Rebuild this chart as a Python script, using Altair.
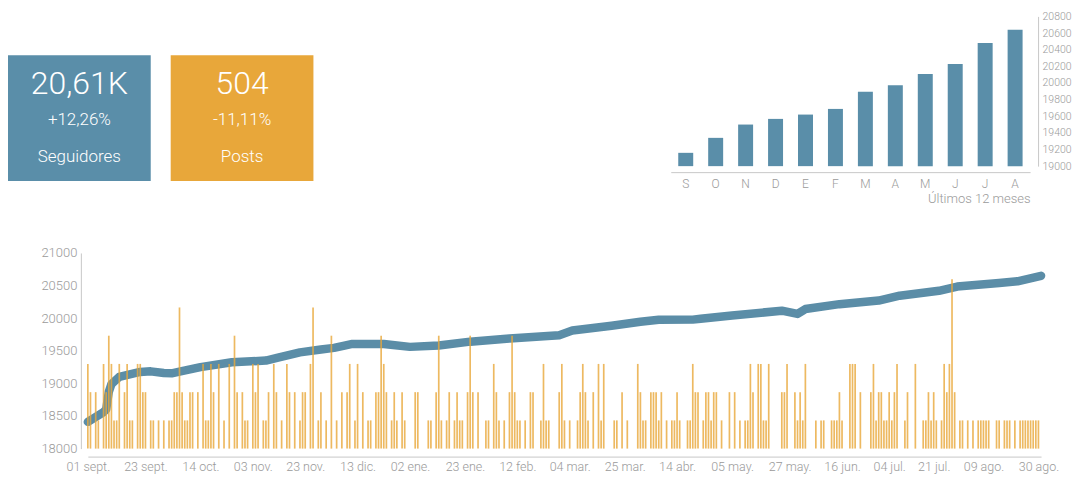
import altair as alt
import pandas as pd

BLUE = "#5a8ea9"
ORANGE = "#e8a73a"
GRAY = "#9a9a9a"

# KPI cards
CARD_NAMES = ["Seguidores", "Posts"]
CARD_VALUES = ["20,61K", "504"]
CARD_CHANGES = ["+12,26%", "-11,11%"]
CARD_COLORS = [BLUE, ORANGE]

# Last 12 months followers
MONTHS = ["sep", "oct", "nov", "dic", "ene", "feb", "mar", "abr", "may", "jun", "jul", "ago"]
MONTH_FOLLOWERS = [19160, 19340, 19500, 19568, 19620, 19688, 19893, 19972, 20109, 20229, 20480, 20640]

# Daily followers (read at points along the line)
FOLLOWER_DATES = [
    "2018-09-01", "2018-09-07", "2018-09-08", "2018-09-09", "2018-09-10", "2018-09-13",
    "2018-09-21", "2018-09-25", "2018-09-30", "2018-10-03", "2018-10-06", "2018-10-14",
    "2018-10-26", "2018-11-08", "2018-11-13", "2018-11-21", "2018-11-29", "2018-12-04",
    "2018-12-08", "2018-12-11", "2018-12-23", "2019-01-02", "2019-01-13", "2019-01-25",
    "2019-02-09", "2019-02-28", "2019-03-05", "2019-03-20", "2019-03-31", "2019-04-07",
    "2019-04-20", "2019-04-23", "2019-05-05", "2019-05-24", "2019-05-30", "2019-06-02",
    "2019-06-15", "2019-06-30", "2019-07-08", "2019-07-23", "2019-07-30", "2019-08-15",
    "2019-08-22", "2019-08-31",
]
FOLLOWER_VALUES = [
    18410, 18560, 18600, 18870, 18990, 19100,
    19175, 19185, 19160, 19155, 19180, 19250,
    19325, 19350, 19400, 19475, 19520, 19545,
    19580, 19605, 19605, 19560, 19580, 19640,
    19690, 19740, 19810, 19885, 19945, 19975,
    19978, 19990, 20040, 20115, 20065, 20140,
    20215, 20270, 20345, 20420, 20485, 20540,
    20565, 20650,
]

# Posts per day (day offset from 01 sept., number of posts)
START = "2018-09-01"
POST_DAY = [
    0, 1, 3, 4, 6, 7, 8, 9, 10, 11, 12, 14, 15, 16, 17, 19, 20, 21, 22, 24, 25, 27, 29, 31, 32, 33, 34, 35,
    36, 37, 38, 39, 40, 42, 44, 45, 46, 47, 48, 50,
    52, 54, 56, 57, 59, 60, 61, 63, 64, 65, 67, 68, 69, 71, 72, 74, 76, 77, 79, 81, 82, 83, 85, 86, 88, 89,
    91, 93, 95, 97, 99, 100, 102, 103,
    105, 107, 108, 110, 111, 112, 113, 114, 116, 117, 118, 120, 121, 125, 126, 130, 131, 133, 134, 135, 137,
    138, 140, 141, 142, 143, 145, 146, 147, 149, 152, 153, 155, 156, 157,
    159, 161, 162, 163, 164, 165, 167, 169, 170, 173, 174, 175, 176, 180, 181, 182, 184, 187, 188, 189, 190,
    191, 193, 195, 196, 197, 201, 202, 204, 206, 210, 211,
    212, 213, 215, 216, 217, 218, 219, 221, 223, 224, 225, 226, 229, 230, 231, 232, 233, 235, 236, 237, 238,
    239, 240, 242, 245, 247, 249, 251, 252, 253, 254, 256, 257, 258, 259, 260,
    265, 266, 267, 270, 271, 272, 273, 274, 278, 280, 281, 284, 285, 286, 287, 288, 291, 292, 293, 295, 299,
    300, 301, 302, 303, 304, 305, 306, 307, 308, 309, 312, 313, 316,
    319, 320, 321, 322, 323, 324, 326, 327, 328, 329, 330, 331, 333, 334, 336, 338, 340, 341, 342, 343, 344,
    347, 348, 350, 351, 352, 354, 356, 357, 358, 359, 360, 361, 362, 363,
]
POST_COUNT = [
    3, 2, 2, 1, 3, 2, 4, 3, 1, 1, 3, 2, 3, 1, 1, 3, 3, 2, 2, 1, 1, 1, 1, 1, 1, 2, 2, 5,
    2, 1, 1, 2, 2, 2, 3, 1, 1, 3, 2, 3,
    1, 3, 4, 2, 2, 1, 1, 3, 2, 3, 1, 1, 2, 3, 2, 1, 3, 2, 2, 1, 2, 2, 3, 5, 1, 2,
    1, 4, 1, 2, 2, 3, 1, 3,
    2, 1, 1, 2, 2, 4, 3, 2, 1, 2, 1, 2, 1, 2, 2, 1, 1, 2, 4, 1, 1,
    2, 1, 2, 1, 1, 2, 4, 2, 2, 1, 1, 3, 2, 1,
    1, 2, 4, 2, 1, 1, 1, 2, 2, 1, 3, 1, 1, 2, 3, 1, 1, 1, 2, 3, 2,
    1, 2, 3, 1, 3, 1, 1, 2, 1, 3, 2,
    1, 1, 2, 2, 2, 1, 2, 1, 1, 1, 2, 1, 1, 1, 3, 2, 2, 1, 2, 2, 1,
    2, 2, 1, 2, 2, 1, 1, 1, 3, 2, 3, 3, 1, 1, 3,
    2, 2, 3, 2, 1, 2, 1, 3, 1, 1, 1, 1, 1, 1, 2, 1, 3, 3, 3, 2, 2,
    3, 1, 2, 2, 1, 1, 2, 1, 2, 3, 1, 2, 3,
    1, 1, 2, 1, 2, 1, 1, 3, 2, 3, 6, 2, 1, 1, 1, 1, 1, 1, 1, 1, 1,
    1, 1, 1, 1, 1, 1, 1, 1, 1, 1, 1, 1, 1, 1,
]

# Spanish month abbreviations for the date axis
MONTH_ABBR = ["ene.", "feb.", "mar.", "abr.", "may.", "jun.", "jul.", "ago.", "sept.", "oct.", "nov.", "dic."]
TICK_DATES = [
    "2018-09-01", "2018-09-23", "2018-10-14", "2018-11-03", "2018-11-23", "2018-12-13",
    "2019-01-02", "2019-01-23", "2019-02-12", "2019-03-04", "2019-03-25", "2019-04-14",
    "2019-05-05", "2019-05-27", "2019-06-16", "2019-07-04", "2019-07-21", "2019-08-09", "2019-08-30",
]


def dt(s):
    y, m, d = (int(v) for v in s.split("-"))
    return alt.DateTime(year=y, month=m, date=d, utc=True)


FONT = "Roboto"
LEFT = 80  # how far the cards reach left of the shared column origin

# ---------- KPI cards ----------
cards_df = pd.DataFrame({"name": CARD_NAMES, "value": CARD_VALUES,
                         "change": CARD_CHANGES, "color": CARD_COLORS})
cx = alt.X("name:N", sort=CARD_NAMES, axis=None,
           scale=alt.Scale(range=[-LEFT, 306 - LEFT], paddingInner=0.1227, paddingOuter=0))
cbase = alt.Chart(cards_df).encode(x=cx)
c_rect = cbase.mark_rect().encode(y=alt.value(39), y2=alt.value(165),
                                  color=alt.Color("color:N", scale=None))
c_val = cbase.mark_text(color="white", fontSize=32, font=FONT, fontWeight=300,
                        baseline="middle").encode(text="value:N", y=alt.value(68))
c_chg = cbase.mark_text(color="white", fontSize=17, font=FONT, fontWeight=300,
                        baseline="middle").encode(text="change:N", y=alt.value(104))
c_lab = cbase.mark_text(color="white", fontSize=17, font=FONT, fontWeight=300,
                        baseline="middle").encode(text="name:N", y=alt.value(141))
cards = alt.layer(c_rect, c_val, c_chg, c_lab).properties(width=306 - LEFT, height=166)

# ---------- last 12 months ----------
month_df = pd.DataFrame({"month": MONTHS, "followers": MONTH_FOLLOWERS})
small = alt.Chart(month_df).mark_bar(color=BLUE).encode(
    x=alt.X("month:N", sort=MONTHS,
            scale=alt.Scale(paddingInner=0.5, paddingOuter=0.25),
            axis=alt.Axis(title="Últimos 12 meses", titleAnchor="end", titleAlign="right",
                          labelExpr="upper(substring(datum.value, 0, 1))", labelAngle=0,
                          offset=6, labelFontSize=12, labelPadding=6,
                          titleFontSize=13, titleFontWeight=300, titleColor=GRAY,
                          titlePadding=3, titleFont=FONT)),
    y=alt.Y("followers:Q",
            scale=alt.Scale(domain=[19000, 20800], zero=False, nice=False),
            axis=alt.Axis(orient="right", values=list(range(19000, 20801, 200)), format="d",
                          offset=8, title=None, labelFontSize=10.5, labelPadding=4)),
    y2=alt.datum(19000),
).properties(width=360, height=150)

# ---------- main daily chart ----------
followers_df = pd.DataFrame({"date": FOLLOWER_DATES, "followers": FOLLOWER_VALUES})
start = pd.Timestamp(START)
posts_df = pd.DataFrame({
    "date": [(start + pd.Timedelta(days=d)).strftime("%Y-%m-%d") for d in POST_DAY],
    "posts": POST_COUNT,
})

label_expr = ("utcFormat(datum.value, '%d') + ' ' + " + str(MONTH_ABBR) +
              "[utcmonth(datum.value)]")
xmain = alt.X("date:T",
              scale=alt.Scale(type="utc", domain=[dt("2018-09-01"), dt("2019-08-31")], padding=0),
              axis=alt.Axis(values=[dt(s) for s in TICK_DATES], labelExpr=label_expr,
                            title=None, offset=8, labelFontSize=12.5, labelPadding=4,
                            labelAngle=0, labelFlush=False))

line = alt.Chart(followers_df).mark_line(
    color="#5b8da7", strokeWidth=8.5, strokeCap="round", strokeJoin="round"
).encode(
    x=xmain,
    y=alt.Y("followers:Q",
            scale=alt.Scale(domain=[18000, 21000], zero=False, nice=False),
            axis=alt.Axis(orient="left", values=list(range(18000, 21001, 500)), format="d",
                          title=None, offset=7, labelFontSize=13, labelPadding=4,
                          minExtent=67)),
)
bars = alt.Chart(posts_df).mark_bar(width=1.7, color=ORANGE, opacity=0.8).encode(
    x=xmain,
    y=alt.Y("posts:Q", scale=alt.Scale(domain=[0, 6.93], nice=False), axis=None),
)
main = alt.layer(line, bars).resolve_scale(y="independent").properties(width=955, height=196)

top = alt.hconcat(cards, small, spacing=358)
chart = alt.vconcat(top, main, spacing=42).properties(
    padding={"left": 0, "top": 3, "right": 0, "bottom": 0},
).configure_view(stroke=None).configure_axis(
    labelFont=FONT, labelFontWeight=300, labelColor=GRAY, domainColor="#c8c8c8",
    ticks=False, grid=False,
)

chart.save("out.html", embed_options={"renderer": "svg", "actions": False})
